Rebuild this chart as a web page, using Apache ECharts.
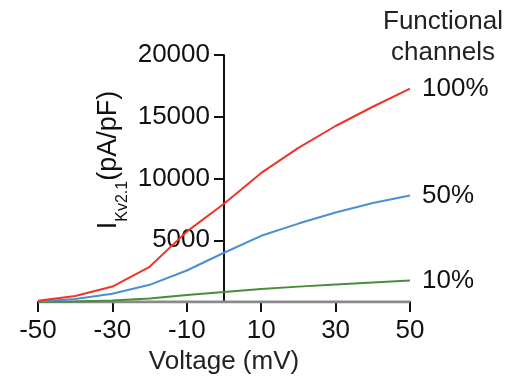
<!DOCTYPE html>
<html>
<head>
<meta charset="utf-8">
<script src="https://cdn.jsdelivr.net/npm/echarts@6/dist/echarts.min.js"></script>
<style>
  html, body { margin: 0; padding: 0; background: #fff; }
  #chart { width: 516px; height: 383px; }
</style>
</head>
<body>
<div id="chart"></div>
<script>
// Membrane voltage steps (mV)
const voltages = [-50, -40, -30, -20, -10, 0, 10, 20, 30, 40, 50];

// Current density (pA/pF) for each fraction of functional channels
const seriesNames = ['100%', '50%', '10%', '0%'];
const current100 = [100, 480, 1250, 2850, 5700, 7960, 10450, 12480, 14250, 15810, 17280];
const current50  = [50, 250, 670, 1390, 2550, 3990, 5360, 6350, 7250, 8010, 8630];
const current10  = [0, 50, 125, 285, 570, 800, 1045, 1245, 1425, 1580, 1740];
const current0   = [0, 0, 0, 0, 0, 0, 0, 0, 0, 0, 0];

// Tick labels
const xTicks = [-50, -30, -10, 10, 30, 50];
const yTicks = [0, 5000, 10000, 15000, 20000];

const colors = ['#ee3526', '#4a8fd6', '#4a8c3a', '#8a8a8a'];
const FONT = '"Liberation Sans", Arial, sans-serif';

// Plot area
const GRID = { left: 38, right: 106, top: 55, bottom: 81 };
const CHART_W = 516;
const X_MIN = -50, X_MAX = 50;
// Shift the current axis so it sits at 0 mV
const yAxisShift = -((0 - X_MIN) / (X_MAX - X_MIN)) * (CHART_W - GRID.left - GRID.right);

const pair = (ys) => voltages.map((v, i) => [v, ys[i]]);

function lineSeries(name, ys, color, width, showEnd, z) {
  return {
    name: name,
    type: 'line',
    data: pair(ys),
    symbol: 'none',
    z: z,
    lineStyle: { color: color, width: width },
    itemStyle: { color: color },
    endLabel: {
      show: showEnd,
      formatter: '{a}',
      distance: 12,
      color: '#111',
      fontSize: 26,
      fontFamily: FONT
    }
  };
}

const chart = echarts.init(document.getElementById('chart'), null, { renderer: 'canvas' });

chart.setOption({
  animation: false,
  backgroundColor: '#ffffff',
  grid: Object.assign({ containLabel: false, outerBoundsMode: 'none' }, GRID),
  xAxis: {
    type: 'value',
    min: X_MIN,
    max: X_MAX,
    name: 'Voltage (mV)',
    nameLocation: 'middle',
    nameGap: 46,
    nameTextStyle: { fontSize: 26, color: '#222', fontFamily: FONT },
    splitLine: { show: false },
    axisLine: { show: true, onZero: false, lineStyle: { color: '#111', width: 2 } },
    axisTick: { show: true, length: 10, lineStyle: { color: '#111', width: 2 }, customValues: xTicks },
    axisLabel: { color: '#111', fontSize: 26, fontFamily: FONT, margin: 16, customValues: xTicks }
  },
  yAxis: {
    type: 'value',
    min: 0,
    max: 20000,
    position: 'left',
    offset: yAxisShift,
    splitLine: { show: false },
    axisLine: { show: true, onZero: false, lineStyle: { color: '#111', width: 2 } },
    axisTick: { show: true, length: 10, lineStyle: { color: '#111', width: 2 }, customValues: yTicks },
    axisLabel: {
      color: '#111', fontSize: 26, fontFamily: FONT, margin: 14,
      customValues: yTicks,
      formatter: (v) => (v === 0 ? '' : String(v))
    }
  },
  graphic: [
    {
      type: 'text',
      x: 110,
      y: 160,
      rotation: Math.PI / 2,
      style: {
        text: '{m|I}{s|Kv2.1}{m|(pA/pF)}',
        align: 'center',
        verticalAlign: 'middle',
        fill: '#111',
        fontFamily: FONT,
        rich: {
          m: { fontSize: 27, lineHeight: 30, verticalAlign: 'top', fontFamily: FONT, fill: '#111' },
          s: { fontSize: 16, lineHeight: 18, verticalAlign: 'top', padding: [20, 0, 0, 0], fontFamily: FONT, fill: '#111' }
        }
      }
    },
    {
      type: 'text',
      x: 443,
      y: 6,
      style: {
        text: 'Functional\nchannels',
        align: 'center',
        verticalAlign: 'top',
        fill: '#222',
        fontSize: 26,
        lineHeight: 31,
        fontFamily: FONT
      }
    }
  ],
  series: [
    lineSeries(seriesNames[3], current0, colors[3], 3, false, 3),
    lineSeries(seriesNames[2], current10, colors[2], 2, true, 4),
    lineSeries(seriesNames[1], current50, colors[1], 2, true, 5),
    lineSeries(seriesNames[0], current100, colors[0], 2, true, 6)
  ]
});
</script>
</body>
</html>
